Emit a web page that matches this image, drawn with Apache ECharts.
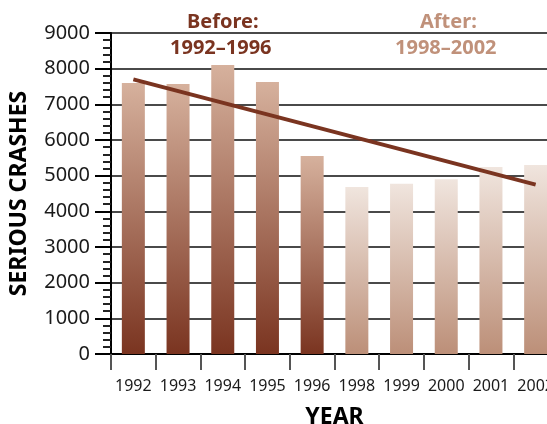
<!DOCTYPE html>
<html>
<head>
<meta charset="utf-8">
<script src="https://cdn.jsdelivr.net/npm/echarts@6/dist/echarts.min.js"></script>
<style>
  html, body { margin: 0; padding: 0; background: #fff; }
  #chart { width: 547px; height: 424px; }
</style>
</head>
<body>
<div id="chart"></div>
<script>
// Serious crashes per year, before and after the change
const years = ['1992', '1993', '1994', '1995', '1996', '1998', '1999', '2000', '2001', '2002'];
const beforeYears = ['1992', '1993', '1994', '1995', '1996'];
const crashes = [7600, 7570, 8100, 7625, 5550, 4680, 4770, 4900, 5240, 5300];
// Linear trend across the whole period (first and last year)
const trendStart = 7700;
const trendEnd = 4750;
const yTicks = [0, 1000, 2000, 3000, 4000, 5000, 6000, 7000, 8000, 9000];

const DARK = '#7a3420';
const LIGHT = '#c0917a';

const chart = echarts.init(document.getElementById('chart'), null, { renderer: 'canvas' });

function barColor(year) {
  const before = beforeYears.includes(year);
  return new echarts.graphic.LinearGradient(0, 0, 0, 1, before
    ? [{ offset: 0, color: '#d6b19d' }, { offset: 1, color: '#7a3420' }]
    : [{ offset: 0, color: '#f0e5de' }, { offset: 1, color: '#bc8f78' }]);
}

const barData = crashes.map((v, i) => ({ value: v, itemStyle: { color: barColor(years[i]) } }));
const trendData = years.map((y, i) => i === 0 ? trendStart : (i === years.length - 1 ? trendEnd : null));

const font = 'Noto Sans';

chart.setOption({
  animation: false,
  grid: { left: 111, top: 33, width: 447, height: 321, outerBoundsMode: 'none', containLabel: false },
  xAxis: {
    type: 'category',
    data: years,
    boundaryGap: true,
    axisLine: { show: true, lineStyle: { color: '#000', width: 2 } },
    axisTick: { show: true, interval: 0, length: 16, lineStyle: { color: '#555', width: 2 } },
    axisLabel: { interval: 0, color: '#1a1a1a', fontSize: 16, fontFamily: font, margin: 24 },
    name: 'YEAR',
    nameLocation: 'middle',
    nameGap: 52,
    nameTextStyle: { color: '#000', fontSize: 23, fontWeight: 'bold', fontFamily: font }
  },
  yAxis: {
    type: 'value',
    min: yTicks[0],
    max: yTicks[yTicks.length - 1],
    interval: 1000,
    axisLine: { show: true, lineStyle: { color: '#000', width: 2 } },
    axisTick: { show: true, length: 16, lineStyle: { color: '#000', width: 2 } },
    minorTick: { show: true, splitNumber: 5, length: 8, lineStyle: { color: '#222', width: 2 } },
    axisLabel: { color: '#1a1a1a', fontSize: 20, fontFamily: font, margin: 21, formatter: v => String(v) },
    splitLine: { show: true, lineStyle: { color: '#4a4a4a', width: 2 } },
    name: 'SERIOUS CRASHES',
    nameLocation: 'middle',
    nameGap: 80,
    nameRotate: 90,
    nameTextStyle: { color: '#000', fontSize: 23, fontWeight: 'bold', fontFamily: font }
  },
  series: [
    {
      type: 'bar',
      data: barData,
      barWidth: 23,
      z: 2
    },
    {
      type: 'line',
      data: trendData,
      connectNulls: true,
      symbol: 'none',
      lineStyle: { color: DARK, width: 4 },
      z: 3
    }
  ],
  graphic: [
    { type: 'text', left: 184, top: 12, z: 10,
      style: { text: 'Before:', fill: DARK, font: 'bold 20px "Noto Sans"', backgroundColor: '#fff', padding: [0, 3] } },
    { type: 'text', left: 170, top: 38, z: 10,
      style: { text: '1992–1996', fill: DARK, font: 'bold 20px "Noto Sans"' } },
    { type: 'text', left: 417, top: 12, z: 10,
      style: { text: 'After:', fill: LIGHT, font: 'bold 20px "Noto Sans"', backgroundColor: '#fff', padding: [0, 3] } },
    { type: 'text', left: 395, top: 38, z: 10,
      style: { text: '1998–2002', fill: LIGHT, font: 'bold 20px "Noto Sans"' } }
  ]
});
</script>
</body>
</html>
